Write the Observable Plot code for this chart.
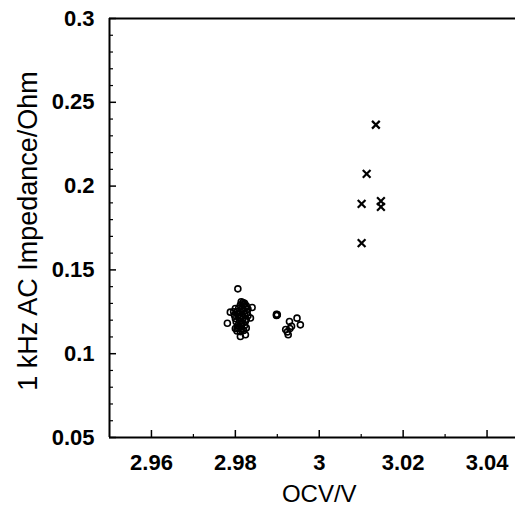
<!DOCTYPE html>
<html><head><meta charset="utf-8">
<script src="https://cdn.jsdelivr.net/npm/d3@7"></script>
<script src="https://cdn.jsdelivr.net/npm/@observablehq/plot@0.6"></script>
<style>html,body{margin:0;padding:0;background:#fff;overflow:hidden}</style>
</head><body><div id="chart"></div>
<script>
// Tick values
const xTicks = [2.96, 2.98, 3, 3.02, 3.04];
const xMinor = [2.97, 2.99, 3.01, 3.03];
const yTicks = [0.05, 0.1, 0.15, 0.2, 0.25, 0.3];
const yMinor = [0.06, 0.07, 0.08, 0.09, 0.11, 0.12, 0.13, 0.14, 0.16, 0.17, 0.18, 0.19, 0.21, 0.22, 0.23, 0.24, 0.26, 0.27, 0.28, 0.29];

// Open-circle series (OCV ~2.98–2.995 V)
const circleX = [
  2.9806, 2.9840, 2.9781, 2.9788, 2.9836, 2.9812, 2.9824, 2.9804,
  2.9814, 2.9818, 2.9822,
  2.9812, 2.9820, 2.9826,
  2.9800, 2.9808, 2.9816, 2.9824, 2.9830,
  2.9796, 2.9804, 2.9812, 2.9820, 2.9828,
  2.9798, 2.9806, 2.9814, 2.9822, 2.9830,
  2.9800, 2.9810, 2.9818, 2.9826,
  2.9802, 2.9810, 2.9816, 2.9824,
  2.9806, 2.9814, 2.9822,
  2.9800, 2.9808, 2.9816, 2.9826,
  2.9804, 2.9812, 2.9820,
  2.9898, 2.9899, 2.9900, 2.9898,
  2.9929, 2.9947, 2.9955, 2.9920, 2.9926, 2.9934, 2.9930, 2.9924
];
const circleY = [
  0.1387, 0.1276, 0.1182, 0.1248, 0.1213, 0.1103, 0.1113, 0.1150,
  0.1310, 0.1305, 0.1300,
  0.1290, 0.1292, 0.1286,
  0.1270, 0.1272, 0.1268, 0.1274, 0.1266,
  0.1250, 0.1252, 0.1248, 0.1254, 0.1246,
  0.1230, 0.1232, 0.1228, 0.1234, 0.1226,
  0.1210, 0.1212, 0.1208, 0.1206,
  0.1190, 0.1192, 0.1188, 0.1194,
  0.1170, 0.1172, 0.1168,
  0.1150, 0.1152, 0.1148, 0.1154,
  0.1135, 0.1132, 0.1138,
  0.1235, 0.1230, 0.1233, 0.1228,
  0.1192, 0.1212, 0.1172, 0.1144, 0.1113, 0.1164, 0.1150, 0.1130
];

// Cross series (OCV ~3.01 V)
const crossX = [3.0135, 3.0113, 3.0101, 3.0147, 3.0147, 3.0101];
const crossY = [0.2366, 0.2073, 0.1894, 0.1910, 0.1876, 0.1660];

const circles = circleX.map((x, i) => ({x, y: circleY[i]}));
const crosses = crossX.map((x, i) => ({x, y: crossY[i]}));

const W = 530, H = 514, mL = 109, mR = 1.5, mT = 18, mB = 77;
const plotW = W - mL - mR, plotH = H - mT - mB;

const chart = Plot.plot({
  width: W, height: H,
  marginLeft: mL, marginRight: mR, marginTop: mT, marginBottom: mB,
  style: {fontFamily: "'Liberation Sans', Arial, sans-serif", maxWidth: "none", overflow: "hidden", background: "#fff", color: "#000"},
  x: {domain: [2.95, 3.05]},
  y: {domain: [0.05, 0.3]},
  marks: [
    // minor / major inward ticks
    Plot.ruleX(xMinor, {x: d => d, insetTop: plotH - 3, stroke: "#000", strokeWidth: 1.2}),
    Plot.ruleX(xTicks, {x: d => d, insetTop: plotH - 7, stroke: "#000", strokeWidth: 1.5}),
    Plot.ruleY(yMinor, {y: d => d, insetRight: plotW - 4, stroke: "#000", strokeWidth: 1.2}),
    Plot.ruleY(yTicks, {y: d => d, insetRight: plotW - 7, stroke: "#000", strokeWidth: 1.5}),
    // frame: left, top, bottom
    Plot.ruleX([2.95], {stroke: "#000", strokeWidth: 2}),
    Plot.ruleY([0.3], {stroke: "#000", strokeWidth: 2}),
    Plot.ruleY([0.05], {stroke: "#000", strokeWidth: 2}),
    // tick labels
    Plot.axisX({ticks: xTicks, tickSize: 0, tickPadding: 17, fontSize: 22, fontWeight: "bold", tickFormat: d => String(d), label: null}),
    Plot.axisY({ticks: yTicks, tickSize: 0, tickPadding: 15, fontSize: 22, fontWeight: "bold", tickFormat: d => String(d), label: null}),
    // axis titles
    Plot.text(["OCV/V"], {frameAnchor: "bottom", dy: 64, fontSize: 24, text: d => d, fill: "#000"}),
    Plot.text(["1 kHz AC Impedance/Ohm"], {frameAnchor: "left", textAnchor: "middle", rotate: -90, dx: -81, dy: 3, fontSize: 27, text: d => d, fill: "#000"}),
    // data
    Plot.dot(circles, {x: "x", y: "y", r: 3, stroke: "#000", strokeWidth: 1.6, fill: "none"}),
    Plot.dot(crosses, {x: "x", y: "y", symbol: "times", r: 3.6, stroke: "#000", strokeWidth: 2.2})
  ]
});
document.getElementById("chart").appendChild(chart);
</script>
</body></html>
